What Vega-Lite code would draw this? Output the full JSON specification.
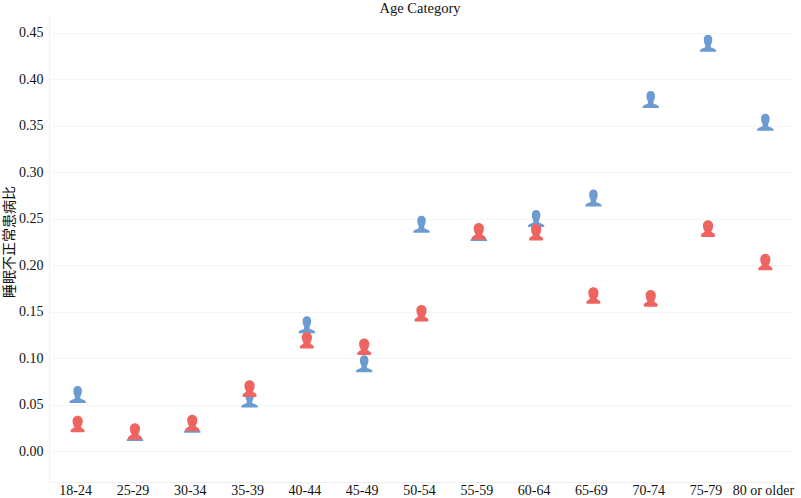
{"$schema":"https://vega.github.io/schema/vega-lite/v6.json","width":752,"height":468,"autosize":{"type":"none"},"padding":{"left":49,"top":14,"right":0,"bottom":16},"background":"white","view":{"stroke":null},"title":{"text":"Age Category","fontSize":14.5,"fontWeight":"normal","font":"Liberation Serif","color":"#111","anchor":"middle","dx":-5,"offset":0,"baseline":"bottom","dy":16},"data":{"values":[
{"age":"18-24","group":"Group A","rate":0.052},{"age":"25-29","group":"Group A","rate":0.011},{"age":"30-34","group":"Group A","rate":0.02},{"age":"35-39","group":"Group A","rate":0.047},{"age":"40-44","group":"Group A","rate":0.127},{"age":"45-49","group":"Group A","rate":0.085},{"age":"50-54","group":"Group A","rate":0.235},{"age":"55-59","group":"Group A","rate":0.226},{"age":"60-64","group":"Group A","rate":0.241},{"age":"65-69","group":"Group A","rate":0.263},{"age":"70-74","group":"Group A","rate":0.369},{"age":"75-79","group":"Group A","rate":0.4295},{"age":"80 or older","group":"Group A","rate":0.3445},
{"age":"18-24","group":"Group B","rate":0.02},{"age":"25-29","group":"Group B","rate":0.012},{"age":"30-34","group":"Group B","rate":0.021},{"age":"35-39","group":"Group B","rate":0.058},{"age":"40-44","group":"Group B","rate":0.11},{"age":"45-49","group":"Group B","rate":0.103},{"age":"50-54","group":"Group B","rate":0.139},{"age":"55-59","group":"Group B","rate":0.227},{"age":"60-64","group":"Group B","rate":0.226},{"age":"65-69","group":"Group B","rate":0.158},{"age":"70-74","group":"Group B","rate":0.155},{"age":"75-79","group":"Group B","rate":0.23},{"age":"80 or older","group":"Group B","rate":0.194}
]},
"mark":{"type":"point","filled":true,"opacity":1,"size":289},
"encoding":{
"x":{"field":"age","type":"nominal","sort":null,"scale":{"paddingInner":0,"paddingOuter":0,"range":[0,745]},"axis":{"title":null,"labelAngle":0,"labelFont":"Liberation Serif","labelFontSize":14,"labelColor":"#111","labelOffset":-2.5,"domainColor":"#eeeeee","tickColor":"#eeeeee","tickSize":2,"grid":false,"labelPadding":-1,"bandPosition":0}},
"y":{"field":"rate","type":"quantitative","scale":{"domain":[-0.033,0.47],"nice":false,"zero":false},"axis":{"title":"睡眠不正常患病比","titleFont":"Liberation Serif, Noto Sans CJK SC","titleFontWeight":"normal","titleFontSize":14,"titleColor":"#111","titleX":-33,"titleY":227.5,"values":[0,0.05,0.1,0.15,0.2,0.25,0.3,0.35,0.4,0.45],"format":".2f","labelFont":"Liberation Serif","labelFontSize":14,"labelColor":"#111","domainColor":"#f2f2f2","ticks":false,"labelPadding":6,"grid":true,"gridColor":"#f5f5f5"}},
"color":{"field":"group","type":"nominal","legend":null,"scale":{"domain":["Group A","Group B"],"range":["#6b9bd0","#ee6461"]}},
"shape":{"field":"group","type":"nominal","legend":null,"scale":{"domain":["Group A","Group B"],"range":["M-0.9,0 C-1,0 -1,-0.1 -0.95,-0.17 C-0.85,-0.35 -0.55,-0.42 -0.36,-0.5 C-0.3,-0.6 -0.3,-0.72 -0.36,-0.85 C-0.47,-1 -0.5,-1.25 -0.5,-1.45 C-0.5,-1.78 -0.3,-2 0,-2 C0.3,-2 0.5,-1.78 0.5,-1.45 C0.5,-1.25 0.47,-1 0.36,-0.85 C0.3,-0.72 0.3,-0.6 0.36,-0.5 C0.55,-0.42 0.85,-0.35 0.95,-0.17 C1,-0.1 1,0 0.9,0 Z","M-0.7,-0.05 C-0.85,-0.05 -0.85,-0.2 -0.8,-0.32 C-0.7,-0.52 -0.5,-0.52 -0.38,-0.68 C-0.55,-0.9 -0.6,-1.2 -0.6,-1.4 C-0.6,-1.75 -0.32,-2 0,-2 C0.32,-2 0.6,-1.75 0.6,-1.4 C0.6,-1.2 0.55,-0.9 0.38,-0.68 C0.5,-0.52 0.7,-0.52 0.8,-0.32 C0.85,-0.2 0.85,-0.05 0.7,-0.05 Z"]}}
}}
